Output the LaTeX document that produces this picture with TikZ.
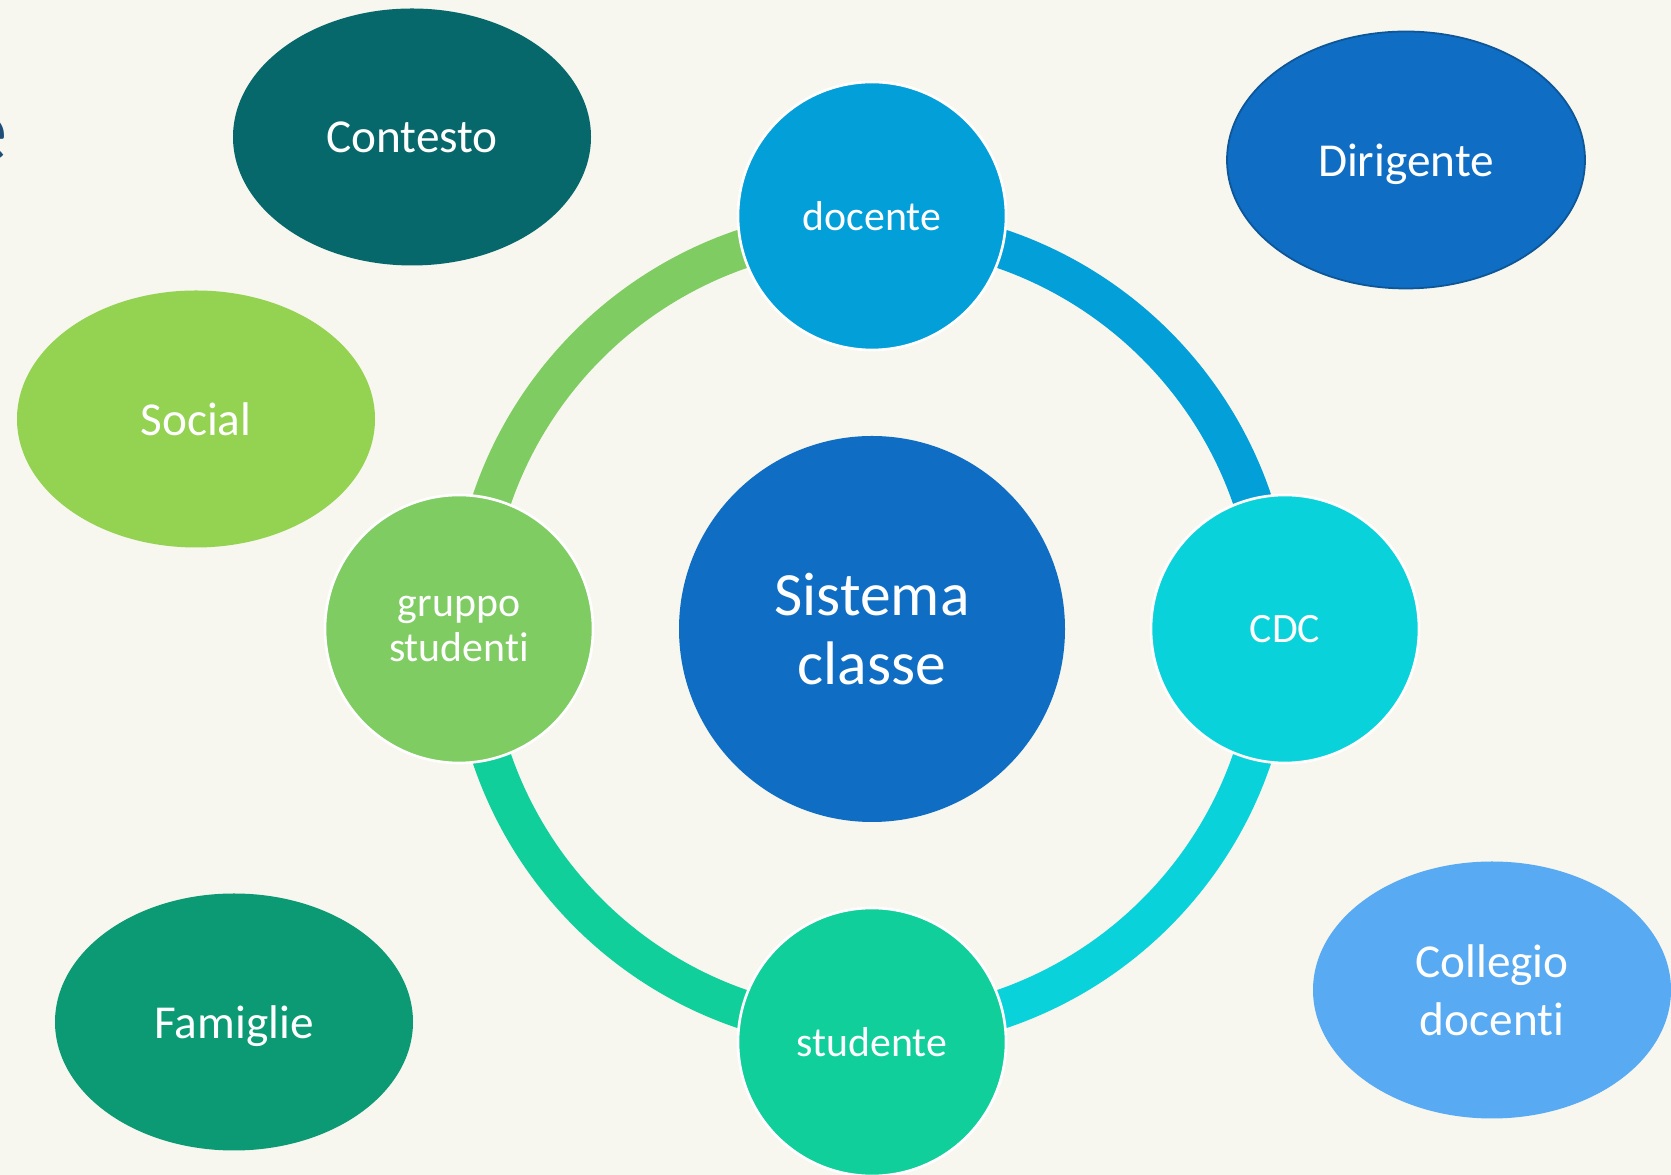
\documentclass[tikz,border=0pt]{standalone}
\usepackage{fontspec}
\setmainfont[Ligatures=NoCommon]{Carlito}
\usepackage{xcolor}
\usetikzlibrary{positioning,shapes.geometric}

\definecolor{bgcream}{HTML}{F7F6EF}
\definecolor{sysblue}{HTML}{0F6EC4}
\definecolor{docblue}{HTML}{039FD9}
\definecolor{cdccyan}{HTML}{0AD2DA}
\definecolor{stuteal}{HTML}{10CF9A}
\definecolor{grpgreen}{HTML}{7FCC63}
\definecolor{ctxteal}{HTML}{07686B}
\definecolor{socgreen}{HTML}{94D251}
\definecolor{famteal}{HTML}{0B9A74}
\definecolor{colblue}{HTML}{58AAF2}
\definecolor{dirborder}{HTML}{0D5697}
\definecolor{titlenavy}{HTML}{1F4E79}

\begin{document}
\begin{tikzpicture}[
    sysnode/.style={circle, fill=sysblue, text=white, minimum size=7.72cm, inner sep=0pt, outer sep=0pt, align=center, font=\fontsize{35}{39}\selectfont},
    sat/.style={circle, draw=white, line width=1.5pt, text=white, minimum size=5.36cm, inner sep=0pt, outer sep=0pt, align=center, font=\fontsize{23.8}{26}\selectfont},
    outer/.style={ellipse, text=white, minimum width=7.16cm, minimum height=5.14cm, inner sep=0pt, text depth=0pt, align=center, font=\fontsize{26.9}{33.4}\selectfont},
    band/.style={line width=0.78cm}
]
    % Background
    \fill[bgcream] (0,0) rectangle (33.42,23.5);
    \useasboundingbox (0,0) rectangle (33.42,23.5);

    % Cut-off title fragment
    \node[anchor=base east, inner sep=0pt, text=titlenavy, font=\fontsize{53}{60}\selectfont] (ttl) at (0.16,20.26) {e};

    % Centre
    \node[sysnode] (sys) at (17.44,10.92) {Sistema\\classe};

    % Ring
    \draw[band, docblue] (sys.center) ++(90:8.03cm) arc[start angle=90, end angle=0, radius=8.03cm];
    \draw[band, cdccyan] (sys.center) ++(0:8.03cm) arc[start angle=0, end angle=-90, radius=8.03cm];
    \draw[band, stuteal] (sys.center) ++(-90:8.03cm) arc[start angle=-90, end angle=-180, radius=8.03cm];
    \draw[band, grpgreen] (sys.center) ++(180:8.03cm) arc[start angle=180, end angle=90, radius=8.03cm];

    % Ring members
    \node[sat, fill=docblue, above=1.72cm of sys] (doc) {docente};
    \node[sat, fill=cdccyan, right=1.72cm of sys] (cdc) {CDC};
    \node[sat, fill=stuteal, below=1.72cm of sys] (stu) {studente};
    \node[sat, fill=grpgreen, left=1.72cm of sys] (grp) {gruppo\\studenti};

    % Surrounding ellipses
    \node[outer, fill=ctxteal] (ctx) at (8.24,20.76) {Contesto};
    \node[outer, fill=sysblue, draw=dirborder, line width=1pt] (dir) at (28.12,20.30) {Dirigente};
    \node[outer, fill=socgreen] (soc) at (3.92,15.12) {Social};
    \node[outer, fill=famteal] (fam) at (4.68,3.06) {Famiglie};
    \node[outer, fill=colblue] (col) at (29.84,3.70) {Collegio\\docenti};
\end{tikzpicture}
\end{document}
